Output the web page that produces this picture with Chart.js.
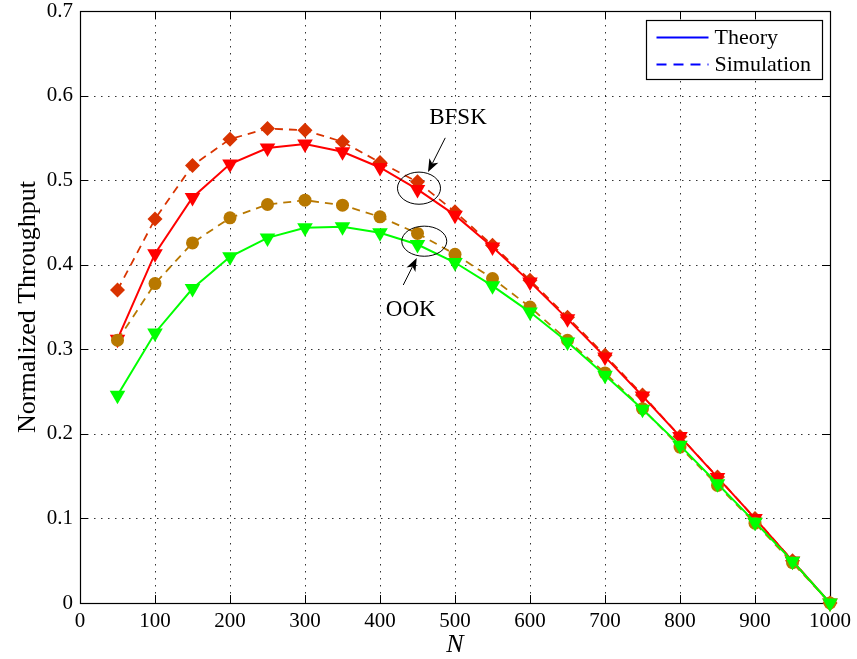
<!DOCTYPE html>
<html>
<head>
<meta charset="utf-8">
<script src="https://cdn.jsdelivr.net/npm/chart.js@4/dist/chart.umd.min.js"></script>
<style>
  html, body { margin: 0; padding: 0; background: #ffffff; }
  #wrap { width: 857px; height: 659px; }
</style>
</head>
<body>
<div id="wrap"><canvas id="c" width="857" height="659"></canvas></div>
<script>
// Number of nodes N
const N = [50, 100, 150, 200, 250, 300, 350, 400, 450, 500,
           550, 600, 650, 700, 750, 800, 850, 900, 950, 1000];

// Normalized throughput, BFSK
const bfskTheory = [0.312, 0.413, 0.4795, 0.519, 0.538, 0.5426, 0.5335, 0.515, 0.489, 0.4586,
                    0.421, 0.3797, 0.336, 0.291, 0.2447, 0.197, 0.1485, 0.100, 0.0497, 0];
const bfskSim    = [0.370, 0.454, 0.5174, 0.5485, 0.561, 0.559, 0.5453, 0.521, 0.498, 0.4625,
                    0.423, 0.3817, 0.338, 0.293, 0.246, 0.197, 0.149, 0.100, 0.050, 0];

// Normalized throughput, OOK
const ookTheory  = [0.2456, 0.3193, 0.3718, 0.4093, 0.4317, 0.4436, 0.4448, 0.4377, 0.4239, 0.4026,
                    0.375, 0.344, 0.3087, 0.2692, 0.229, 0.1864, 0.141, 0.0956, 0.0495, 0];
const ookSim     = [0.3107, 0.3777, 0.4258, 0.4554, 0.4712, 0.4763, 0.4704, 0.4566, 0.437, 0.4124,
                    0.3837, 0.350, 0.3107, 0.272, 0.2298, 0.1844, 0.139, 0.0944, 0.0476, 0];

// Axis ticks
const xTicks = [0, 100, 200, 300, 400, 500, 600, 700, 800, 900, 1000];
const yTicks = [0, 0.1, 0.2, 0.3, 0.4, 0.5, 0.6, 0.7];

// Legend entries
const legendLabels = ['Theory', 'Simulation'];

// Callouts in data units: label, label position, ellipse centre/radii, arrow tail/head
const callouts = [
  { text: 'BFSK', tx: 504, ty: 0.5734, ex: 452, ey: 0.4905, rx: 28.7, ry: 0.0190,
    ax1: 487, ay1: 0.5500, ax2: 464, ay2: 0.5095 },
  { text: 'OOK',  tx: 441, ty: 0.346,  ex: 459, ey: 0.4278, rx: 30.0, ry: 0.0178,
    ax1: 431, ay1: 0.376,  ax2: 449, ay2: 0.4078 }
];

const SERIF = '"Liberation Serif", "Times New Roman", serif';
const RED = '#ff0000', GREEN = '#00ff00', ORANGE = '#d93300', BROWN = '#b87800', BLUE = '#0000ff';

const pts = arr => arr.map((v, i) => ({ x: N[i], y: v }));

// Dotted grid, box frame and inward ticks
const framePlugin = {
  id: 'frame',
  beforeDatasetsDraw(chart) {
    const { ctx, chartArea: a, scales: { x, y } } = chart;
    ctx.save();
    ctx.lineWidth = 1;
    ctx.strokeStyle = 'rgba(0,0,0,0.8)';
    ctx.setLineDash([1.5, 5.5]);
    xTicks.forEach(t => {
      const px = Math.round(x.getPixelForValue(t)) + 0.5;
      ctx.beginPath(); ctx.moveTo(px, a.top); ctx.lineTo(px, a.bottom); ctx.stroke();
    });
    yTicks.forEach(t => {
      const py = Math.round(y.getPixelForValue(t)) + 0.5;
      ctx.beginPath(); ctx.moveTo(a.left, py); ctx.lineTo(a.right, py); ctx.stroke();
    });
    ctx.setLineDash([]);
    ctx.strokeStyle = '#000';
    const L = 8;
    xTicks.forEach(t => {
      const px = Math.round(x.getPixelForValue(t)) + 0.5;
      ctx.beginPath();
      ctx.moveTo(px, a.bottom); ctx.lineTo(px, a.bottom - L);
      ctx.moveTo(px, a.top); ctx.lineTo(px, a.top + L);
      ctx.stroke();
    });
    yTicks.forEach(t => {
      const py = Math.round(y.getPixelForValue(t)) + 0.5;
      ctx.beginPath();
      ctx.moveTo(a.left, py); ctx.lineTo(a.left + L, py);
      ctx.moveTo(a.right, py); ctx.lineTo(a.right - L, py);
      ctx.stroke();
    });
    ctx.lineWidth = 1.2;
    ctx.strokeRect(Math.round(a.left) + 0.5, Math.round(a.top) + 0.5,
                   Math.round(a.right - a.left), Math.round(a.bottom - a.top));
    ctx.restore();
  }
};

function arrow(ctx, x1, y1, x2, y2) {
  const ang = Math.atan2(y2 - y1, x2 - x1);
  const len = 13, half = 5, notch = 3.5;
  const c = Math.cos(ang), s = Math.sin(ang);
  const bx = x2 - len * c, by = y2 - len * s;
  const nx = -s, ny = c;
  const mx = x2 - (len - notch) * c, my = y2 - (len - notch) * s;
  ctx.beginPath();
  ctx.moveTo(x1, y1);
  ctx.lineTo(mx, my);
  ctx.stroke();
  ctx.beginPath();
  ctx.moveTo(x2, y2);
  ctx.lineTo(bx + half * nx, by + half * ny);
  ctx.lineTo(mx, my);
  ctx.lineTo(bx - half * nx, by - half * ny);
  ctx.closePath();
  ctx.fill();
}

// Callouts and the legend box
const overlayPlugin = {
  id: 'overlay',
  afterDatasetsDraw(chart) {
    const { ctx, chartArea: a, scales: { x, y } } = chart;
    ctx.save();
    ctx.strokeStyle = '#000';
    ctx.fillStyle = '#000';
    ctx.lineWidth = 1;
    callouts.forEach(c => {
      const cx = x.getPixelForValue(c.ex), cy = y.getPixelForValue(c.ey);
      const rx = x.getPixelForValue(c.ex + c.rx) - cx;
      const ry = cy - y.getPixelForValue(c.ey + c.ry);
      ctx.beginPath(); ctx.ellipse(cx, cy, rx, ry, 0, 0, Math.PI * 2); ctx.stroke();
      arrow(ctx, x.getPixelForValue(c.ax1), y.getPixelForValue(c.ay1),
                 x.getPixelForValue(c.ax2), y.getPixelForValue(c.ay2));
      ctx.font = '23px ' + SERIF;
      ctx.textAlign = 'center';
      ctx.textBaseline = 'middle';
      ctx.fillText(c.text, x.getPixelForValue(c.tx), y.getPixelForValue(c.ty));
    });

    // legend
    const bw = 176, bh = 59;
    const bx = Math.round(a.right - 8 - bw) + 0.5, by = Math.round(a.top + 9) + 0.5;
    ctx.fillStyle = '#fff';
    ctx.fillRect(bx, by, bw, bh);
    ctx.strokeStyle = '#000';
    ctx.lineWidth = 1.2;
    ctx.strokeRect(bx, by, bw, bh);
    const rows = [by + 17, by + 44];
    ctx.strokeStyle = BLUE;
    ctx.lineWidth = 1.8;
    rows.forEach((ry, i) => {
      ctx.setLineDash(i === 0 ? [] : [10, 7]);
      ctx.beginPath(); ctx.moveTo(bx + 10, ry); ctx.lineTo(bx + 62, ry); ctx.stroke();
    });
    ctx.setLineDash([]);
    ctx.fillStyle = '#000';
    ctx.font = '22px ' + SERIF;
    ctx.textAlign = 'left';
    ctx.textBaseline = 'middle';
    rows.forEach((ry, i) => ctx.fillText(legendLabels[i], bx + 68, ry + 1));
    ctx.restore();
  }
};

new Chart(document.getElementById('c'), {
  type: 'line',
  data: {
    datasets: [
      { label: 'OOK Theory', data: pts(ookTheory), borderColor: GREEN, backgroundColor: GREEN,
        borderWidth: 2, pointStyle: 'triangle', pointRotation: 180, pointRadius: 9,
        pointBorderWidth: 0, tension: 0, clip: false },
      { label: 'OOK Simulation', data: pts(ookSim), borderColor: BROWN, backgroundColor: BROWN,
        borderWidth: 1.8, borderDash: [8, 6], pointStyle: 'circle', pointRadius: 6.5,
        pointBorderWidth: 0, tension: 0, clip: false },
      { label: 'BFSK Theory', data: pts(bfskTheory), borderColor: RED, backgroundColor: RED,
        borderWidth: 2, pointStyle: 'triangle', pointRotation: 180, pointRadius: 9,
        pointBorderWidth: 0, tension: 0, clip: false },
      { label: 'BFSK Simulation', data: pts(bfskSim), borderColor: ORANGE, backgroundColor: ORANGE,
        borderWidth: 1.8, borderDash: [8, 6], pointStyle: 'rectRot', pointRadius: 7.5,
        pointBorderWidth: 0, tension: 0, clip: false }
    ]
  },
  options: {
    responsive: false,
    animation: false,
    devicePixelRatio: 1,
    layout: { padding: { top: 11, right: 27, left: 0, bottom: 0 } },
    plugins: { legend: { display: false }, tooltip: { enabled: false } },
    scales: {
      x: {
        type: 'linear', min: 0, max: 1000,
        afterFit: s => { s.height = 56; s.paddingLeft = 0; s.paddingRight = 0; },
        afterBuildTicks: s => { s.ticks = xTicks.map(v => ({ value: v })); },
        grid: { display: false, drawTicks: false },
        border: { display: false },
        ticks: { padding: 8, color: '#000', font: { family: SERIF, size: 21, lineHeight: 1 },
                 maxRotation: 0, callback: v => String(v) },
        title: { display: true, text: 'N', color: '#000',
                 font: { family: SERIF, size: 26, style: 'italic', lineHeight: 1 },
                 padding: { top: 0, bottom: 1 } }
      },
      y: {
        type: 'linear', min: 0, max: 0.7,
        afterFit: s => { s.width = 80; s.paddingTop = 0; s.paddingBottom = 0; },
        afterBuildTicks: s => { s.ticks = yTicks.map(v => ({ value: v })); },
        grid: { display: false, drawTicks: false },
        border: { display: false },
        ticks: { padding: 7, color: '#000', font: { family: SERIF, size: 21, lineHeight: 1 },
                 callback: v => String(+v.toFixed(1)) },
        title: { display: true, text: 'Normalized Throughput', color: '#000',
                 font: { family: SERIF, size: 26, lineHeight: 1 },
                 padding: { top: 15, bottom: 0 } }
      }
    }
  },
  plugins: [framePlugin, overlayPlugin]
});
</script>
</body>
</html>
